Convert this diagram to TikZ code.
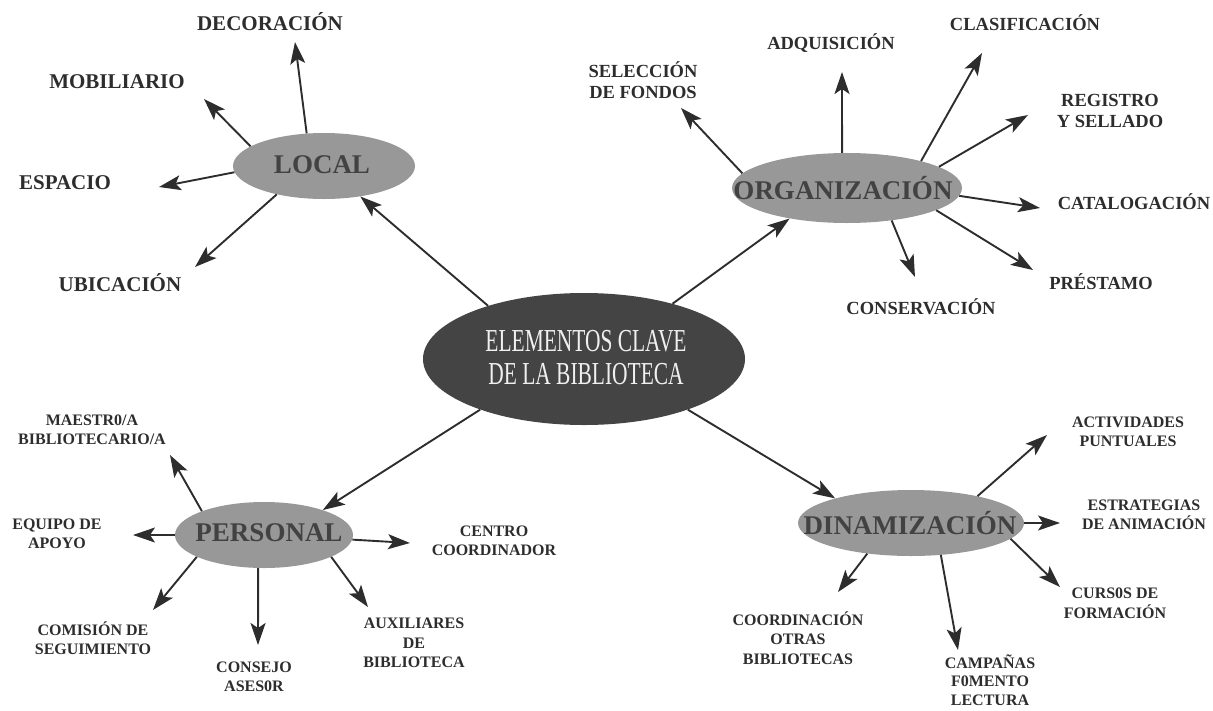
\documentclass[tikz,border=0pt]{standalone}
\usepackage{fontspec}
\setmainfont{Liberation Serif}
\newfontfamily\narrowfont[FakeStretch=0.67]{Liberation Serif}
\usetikzlibrary{arrows.meta,shapes.geometric}
\definecolor{ellgray}{RGB}{152,152,152}
\definecolor{darkell}{RGB}{68,68,68}
\definecolor{ink}{RGB}{45,45,45}

\begin{document}
\begin{tikzpicture}[x=1pt,y=-1pt,
  ell/.style={ellipse,fill=ellgray,inner sep=0pt},
  ttl/.style={font=\fontsize{27}{29}\selectfont\bfseries,text=ink!90,inner sep=0pt},
  lab/.style={font=\fontsize{16}{19.5}\selectfont\bfseries,align=center,text=ink,inner sep=0pt},
  biglab/.style={lab,font=\fontsize{21}{24}\selectfont\bfseries},
  orglab/.style={lab,font=\fontsize{18.5}{21}\selectfont\bfseries},
  arr/.style={-{Stealth[length=22pt,width=15pt,inset=5pt]},line width=1.9pt,draw=ink}]
\useasboundingbox (0,0) rectangle (1213,710);
\coordinate (tdeco) at (295,42);
\coordinate (tmob) at (204,99);
\coordinate (tesp) at (159,187);
\coordinate (tubi) at (195,267);
\coordinate (tsel) at (681,108);
\coordinate (tadq) at (842,72);
\coordinate (tclas) at (982,53);
\coordinate (treg) at (1028,115);
\coordinate (tcat) at (1040,208);
\coordinate (tpres) at (1033,270);
\coordinate (tcons) at (915,277);
\coordinate (tmae) at (170,455);
\coordinate (teq) at (133,535);
\coordinate (tcom) at (153,610);
\coordinate (tcon) at (258,645);
\coordinate (taux) at (368,607);
\coordinate (tcen) at (410,543);
\coordinate (tact) at (1047,435);
\coordinate (test) at (1060,523);
\coordinate (tcur) at (1060,587);
\coordinate (tcamp) at (958,650);
\coordinate (tcoor) at (838,592);
\node[ell,fill=darkell,minimum width=322pt,minimum height=132pt] (main) at (584,359) {};
\node[text=gray!12,align=center,inner sep=0pt,font=\narrowfont\fontsize{32}{33}\selectfont] (maint) at (586,358) {ELEMENTOS CLAVE\\DE LA BIBLIOTECA};
\node[ell,minimum width=182pt,minimum height=66pt] (loc) at (324,166) {};
\node[ttl] (loct) at (322,165) {LOCAL};
\node[ell,minimum width=230pt,minimum height=70pt] (org) at (847,188) {};
\node[ttl] (orgt) at (843,188) {ORGANIZACIÓN};
\node[ell,minimum width=178pt,minimum height=66pt] (per) at (264,535) {};
\node[ttl] (pert) at (269,533) {PERSONAL};
\node[ell,minimum width=226pt,minimum height=66pt] (din) at (911,523) {};
\node[ttl] (dint) at (910,523) {DINAMIZACIÓN};
\draw[arr] (main.151) -- (loc.320);
\draw[arr] (main.32) -- (org.208);
\draw[arr] (main.206) -- (per.23);
\draw[arr] (main.334) -- (din.162);
\draw[arr] (loc.118) -- (tdeco);
\draw[arr] (loc.165) -- (tmob);
\draw[arr] (loc.184) -- (tesp);
\draw[arr] (loc.211) -- (tubi);
\draw[arr] (org.172) -- (tsel);
\draw[arr] (org.98) -- (tadq);
\draw[arr] (org.20) -- (tclas);
\draw[arr] (org.13) -- (treg);
\draw[arr] (org.356) -- (tcat);
\draw[arr] (org.346) -- (tpres);
\draw[arr] (org.324) -- (tcons);
\draw[arr] (per.159) -- (tmae);
\draw[arr] (per.180) -- (teq);
\draw[arr] (per.198) -- (tcom);
\draw[arr] (per.260) -- (tcon);
\draw[arr] (per.342) -- (taux);
\draw[arr] (per.357) -- (tcen);
\draw[arr] (din.22) -- (tact);
\draw[arr] (din.0) -- (test);
\draw[arr] (din.351) -- (tcur);
\draw[arr] (din.313) -- (tcamp);
\draw[arr] (din.215) -- (tcoor);
\node[biglab] (ldeco) at (270,22) {DECORACIÓN};
\node[biglab] (lmob) at (117,82) {MOBILIARIO};
\node[biglab] (lesp) at (65,183) {ESPACIO};
\node[biglab] (lubi) at (120,283) {UBICACIÓN};
\node[orglab] (osel) at (643,80) {SELECCIÓN\\DE FONDOS};
\node[orglab] (oadq) at (831,43) {ADQUISICIÓN};
\node[orglab] (oclas) at (1025,23) {CLASIFICACIÓN};
\node[orglab] (oreg) at (1110,111) {REGISTRO\\Y SELLADO};
\node[orglab] (ocat) at (1134,202) {CATALOGACIÓN};
\node[orglab] (opres) at (1101,282) {PRÉSTAMO};
\node[orglab] (ocons) at (921,307) {CONSERVACIÓN};
\node[lab] (pmae) at (92,430) {MAESTR0/A\\BIBLIOTECARIO/A};
\node[lab] (peq) at (57,534) {EQUIPO DE\\APOYO};
\node[lab] (pcom) at (93,638) {COMISIÓN DE\\SEGUIMIENTO};
\node[lab] (pcons) at (254,677) {CONSEJO\\ASES0R};
\node[lab] (paux) at (414,643) {AUXILIARES\\DE\\BIBLIOTECA};
\node[lab] (pcen) at (494,541) {CENTRO\\COORDINADOR};
\node[lab] (dact) at (1128,432) {ACTIVIDADES\\PUNTUALES};
\node[lab] (dest) at (1144,515) {ESTRATEGIAS\\DE ANIMACIÓN};
\node[lab] (dcur) at (1115,603) {CURS0S DE\\FORMACIÓN};
\node[lab,font=\fontsize{16}{18.5}\selectfont\bfseries] (dcamp) at (990,680) {CAMPAÑAS\\F0MENTO\\LECTURA};
\node[lab] (dcoor) at (798,638) {COORDINACIÓN\\OTRAS\\BIBLIOTECAS};
\end{tikzpicture}
\end{document}
